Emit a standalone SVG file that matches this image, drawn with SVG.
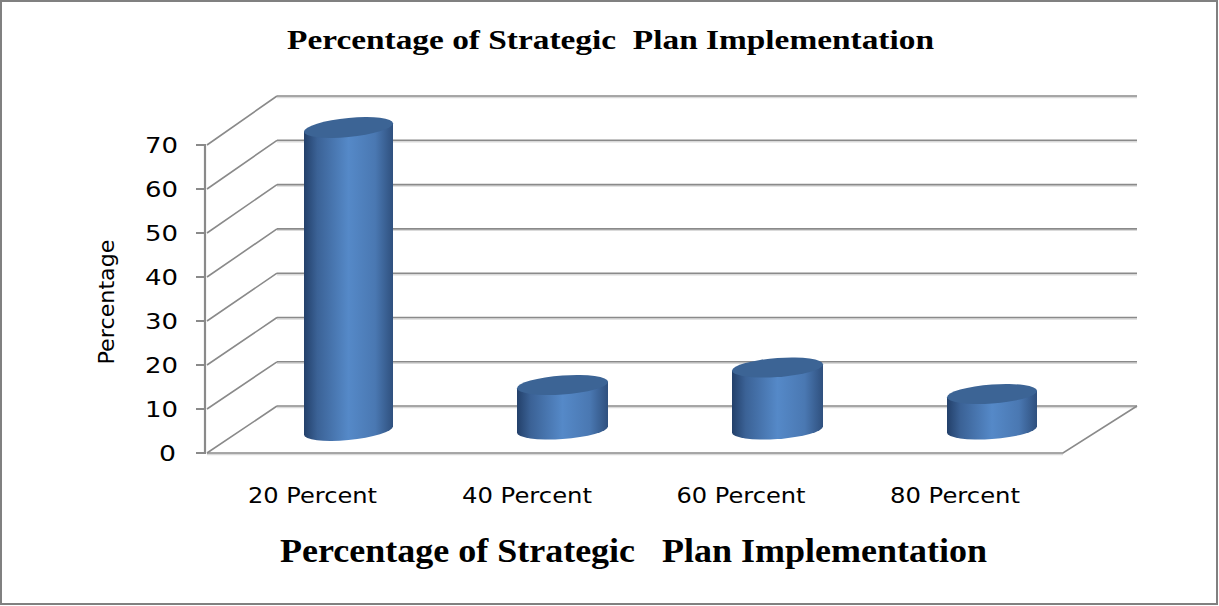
<svg xmlns="http://www.w3.org/2000/svg" width="1219" height="606" viewBox="0 0 1219 606">
<defs>
<linearGradient id="cyl" x1="0" y1="0" x2="1" y2="0">
<stop offset="0" stop-color="#23406a"/>
<stop offset="0.15" stop-color="#3b6296"/>
<stop offset="0.5" stop-color="#5589c8"/>
<stop offset="0.8" stop-color="#4a78b2"/>
<stop offset="1" stop-color="#2f507e"/>
</linearGradient>
<style>
.grid{stroke:#8a8a8a;stroke-width:1.6;fill:none}
.gsh{stroke:#dadada;stroke-width:1.4;fill:none}
.axis{stroke:#8a8a8a;stroke-width:2.2;fill:none}
.lbl{font-family:"DejaVu Sans","Liberation Sans",sans-serif;font-size:21px;fill:#000}
.ttl{font-family:"Liberation Serif","Times New Roman",serif;font-weight:bold;fill:#000}
.top{fill:#3c6495}
.body{fill:url(#cyl)}
</style>
</defs>
<rect x="1" y="1" width="1216" height="603" fill="#fff" stroke="#808080" stroke-width="2"/>
<text class="ttl" x="610.5" y="49" font-size="27" text-anchor="middle" textLength="647" lengthAdjust="spacingAndGlyphs" xml:space="preserve">Percentage of Strategic  Plan Implementation</text>
<g id="grid">
<g class="gsh">
<path d="M277 97.5H1137M277 141.8H1137M277 186.1H1137M277 230.4H1137M277 274.7H1137M277 319H1137M277 363.3H1137M277 407.5H1137"/>
<path d="M207 454.5H1063"/>
</g>
<g class="grid">
<path d="M277 96H1137M277 140.3H1137M277 184.6H1137M277 228.9H1137M277 273.2H1137M277 317.5H1137M277 361.8H1137M277 406H1137"/>
<path d="M207 145L277 96M207 189L277 140.3M207 233L277 184.6M207 277L277 228.9M207 321L277 273.2M207 365L277 317.5M207 409L277 361.8M207 453L277 406"/>
<path d="M207 453H1063L1137 406"/>
</g>
<g class="axis">
<path d="M205 144V454"/>
<path d="M196 145H205M196 189H205M196 233H205M196 277H205M196 321H205M196 365H205M196 409H205M196 453H205"/>
</g>
</g>
<g id="ylabels" class="lbl" text-anchor="end">
<text x="178" y="153" textLength="33" lengthAdjust="spacingAndGlyphs">70</text>
<text x="178" y="197" textLength="33" lengthAdjust="spacingAndGlyphs">60</text>
<text x="178" y="241" textLength="33" lengthAdjust="spacingAndGlyphs">50</text>
<text x="178" y="285" textLength="33" lengthAdjust="spacingAndGlyphs">40</text>
<text x="178" y="329" textLength="33" lengthAdjust="spacingAndGlyphs">30</text>
<text x="178" y="373" textLength="33" lengthAdjust="spacingAndGlyphs">20</text>
<text x="178" y="417" textLength="33" lengthAdjust="spacingAndGlyphs">10</text>
<text x="176" y="461" textLength="17" lengthAdjust="spacingAndGlyphs">0</text>
</g>
<text id="ytitle" class="lbl" font-size="20" transform="translate(114,302) rotate(-90)" text-anchor="middle" textLength="125" lengthAdjust="spacingAndGlyphs">Percentage</text>
<g id="bar1" transform="translate(348.5,0) skewY(-5.5) translate(-348.5,0)">
<path class="body" d="M304 127.5V430.5A44.5 9.5 0 0 0 393 430.5V127.5Z"/>
<ellipse class="top" cx="348.5" cy="127.5" rx="44.5" ry="9.5"/>
</g>
<g id="bar2" transform="translate(562.5,0) skewY(-4) translate(-562.5,0)">
<path class="body" d="M517 385V429.5A45.5 9.5 0 0 0 608 429.5V385Z"/>
<ellipse class="top" cx="562.5" cy="385" rx="45.5" ry="9.5"/>
</g>
<g id="bar3" transform="translate(777.5,0) skewY(-4) translate(-777.5,0)">
<path class="body" d="M732 367.5V429.5A45.5 9.5 0 0 0 823 429.5V367.5Z"/>
<ellipse class="top" cx="777.5" cy="367.5" rx="45.5" ry="9.5"/>
</g>
<g id="bar4" transform="translate(992,0) skewY(-4) translate(-992,0)">
<path class="body" d="M947 394V429.5A45 9.5 0 0 0 1037 429.5V394Z"/>
<ellipse class="top" cx="992" cy="394" rx="45" ry="9.5"/>
</g>
<g id="xlabels" class="lbl" text-anchor="middle">
<text x="312.5" y="503" textLength="129" lengthAdjust="spacingAndGlyphs">20 Percent</text>
<text x="527" y="503" textLength="130" lengthAdjust="spacingAndGlyphs">40 Percent</text>
<text x="741" y="503" textLength="129" lengthAdjust="spacingAndGlyphs">60 Percent</text>
<text x="955" y="503" textLength="130" lengthAdjust="spacingAndGlyphs">80 Percent</text>
</g>
<text class="ttl" x="633.5" y="562" font-size="33" text-anchor="middle" textLength="707" lengthAdjust="spacingAndGlyphs" xml:space="preserve">Percentage of Strategic   Plan Implementation</text>
</svg>
